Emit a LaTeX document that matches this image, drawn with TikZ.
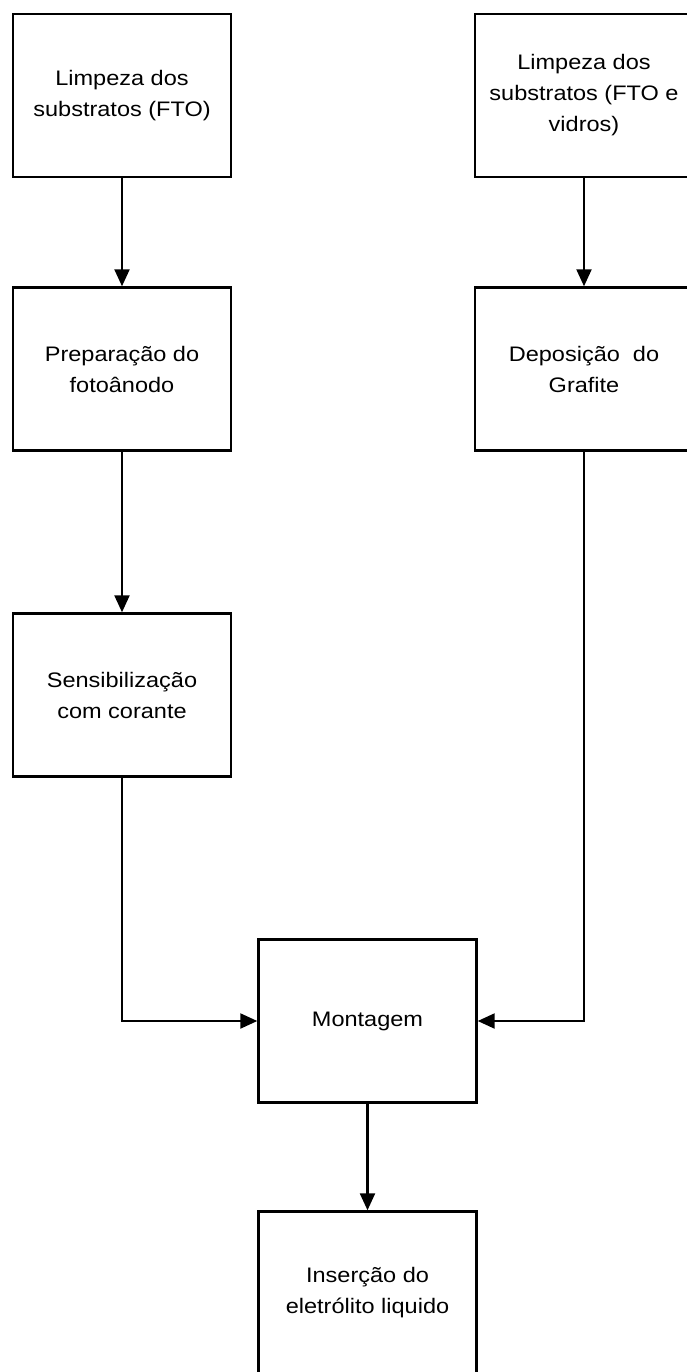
\documentclass[tikz,border=0pt]{standalone}
\usepackage{fontspec}
\setmainfont{Liberation Sans}[FakeStretch=1.12]
\usetikzlibrary{arrows.meta}
\begin{document}
\begin{tikzpicture}[x=1pt,y=-1pt,
  stepbox/.style={draw=black,line width=2.4pt,minimum width=218pt,minimum height=163pt,align=center,inner sep=0pt,
    font=\fontsize{21}{31}\selectfont},
  conn/.style={line width=2.2pt,-{Triangle[length=17pt,width=15pt]}}]
\useasboundingbox (0,0) rectangle (686,1372);
\node[stepbox] (n1) at (122,95.5) {Limpeza dos\\substratos (FTO)};
\node[stepbox] (n2) at (584,95.5) {Limpeza dos\\substratos (FTO e\\vidros)};
\node[stepbox] (n3) at (122,369) {Preparação do\\fotoânodo};
\node[stepbox] (n4) at (584,369) {Deposição\ \ do\\Grafite};
\node[stepbox] (n5) at (122,695) {Sensibilização\\com corante};
\node[stepbox] (n6) at (367.5,1021) {Montagem};
\node[stepbox] (n7) at (367.5,1293) {Inserção do\\eletrólito liquido};
\draw[conn] (n1) -- (n3);
\draw[conn] (n2) -- (n4);
\draw[conn] (n3) -- (n5);
\draw[conn] (n5.south) |- (n6.west);
\draw[conn] (n4.south) |- (n6.east);
\draw[conn] (n6) -- (n7);
\end{tikzpicture}
\end{document}
